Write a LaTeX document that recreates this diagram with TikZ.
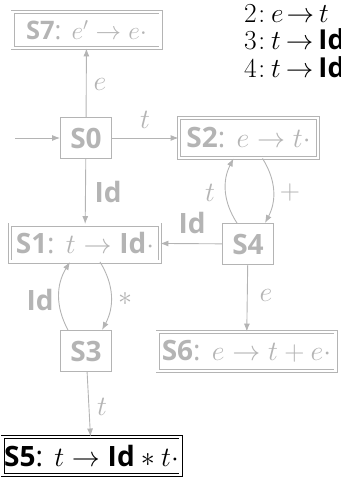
\RequirePackage{fix-cm}
\documentclass[tikz,border=0pt]{standalone}
\usepackage{fontspec}
\setsansfont{Open Sans}
\usetikzlibrary{arrows.meta,calc}
\definecolor{gc}{RGB}{180,180,180}
\newcommand\fsz{\fontsize{28}{32}\selectfont}
\newcommand\rsz{\fontsize{27.5}{30}\selectfont}
\newcommand\sn[1]{\textsf{\textbf{#1}}}
\newcommand\idd{\textsf{\textbf{Id}}}
\begin{document}
\begin{tikzpicture}[x=1pt,y=-1pt,
  st/.style={draw=gc, text=gc, line width=0.9pt, font=\fsz, inner sep=0pt, minimum height=41pt, minimum width=51pt},
  acc/.style={st, double=white, double distance=2.2pt, minimum height=37pt},
  ed/.style={draw=gc, line width=0.9pt, -{Latex[length=8pt,width=6pt]}},
  lab/.style={text=gc, font=\fsz, inner sep=0pt},
  rule/.style={anchor=base west, inner sep=0pt, font=\rsz}]
\useasboundingbox (0,0) rectangle (340,479);
\clip (0,0) rectangle (340,479);
% nodes
\node[acc, minimum width=148pt, minimum height=36pt, font=\fontsize{25.5}{30}\selectfont] (S7) at (86.5,30) {\sn{S7}\textsf{:} $e'\rightarrow e\cdot$};
\node[st] (S0) at (86,138) {\sn{S0}};
\node[acc, minimum width=139pt, minimum height=40pt] (S2) at (248.5,138) {\sn{S2}\textsf{:} $e\rightarrow t\cdot$};
\node[acc, minimum width=150pt] (S1) at (85,243) {\sn{S1}\textsf{:} $t\rightarrow \idd\cdot$};
\node[st] (S4) at (248,244) {\sn{S4}};
\node[st] (S3) at (86,351) {\sn{S3}};
\node[acc, minimum width=178pt, minimum height=39pt] (S6) at (246.5,351.5) {\sn{S6}\textsf{:} $e\rightarrow t+e\cdot$};
\node[acc, draw=black, text=black, minimum width=178pt, minimum height=38pt] (S5) at (91.5,456) {\sn{S5}\textsf{:} $t\rightarrow \idd * t\cdot$};
% rules
\node[rule] (r2) at (244,22) {$2\hspace{1.5pt}{:}\hspace{6pt}e\hspace{3pt}{\rightarrow}\hspace{5pt}t$};
\node[rule] (r3) at (244,49) {$3\hspace{1.5pt}{:}\hspace{6pt}t\hspace{5pt}{\rightarrow}\hspace{5pt}\idd$};
\node[rule] (r4) at (244,77) {$4\hspace{1.5pt}{:}\hspace{6pt}t\hspace{5pt}{\rightarrow}\hspace{5pt}\idd$};
% edges
\coordinate (in) at (15,138);
\draw[ed] (in) -- (S0);
\draw[ed] (S0) -- (S7);
\node[lab] (le) at (100,84) {$e$};
\draw[ed] (S0) -- (S2);
\node[lab] (lt) at (145,120) {$t$};
\draw[ed] (S0) -- (S1);
\node[lab] (lid) at (108,192) {\idd};
\draw[ed] ($(S2.south)+(14,0)$) to[bend left=30] ($(S4.north)+(17,0)$);
\node[lab] (lp) at (290,192) {$+$};
\draw[ed] ($(S4.north)+(-11,0)$) to[bend left=30] ($(S2.south)+(-15,0)$);
\node[lab] (lt2) at (210,193) {$t$};
\draw[ed] (S4) -- (S1);
\node[lab] (lid2) at (192,223) {\idd};
\draw[ed] (S4) -- (S6);
\node[lab] (le2) at (266,295) {$e$};
\draw[ed] ($(S1.south)+(15,0)$) to[bend left=30] ($(S3.north)+(16,0)$);
\node[lab] (ls) at (125,299) {$*$};
\draw[ed] ($(S3.north)+(-18,0)$) to[bend left=30] ($(S1.south)+(-15,0)$);
\node[lab] (lid3) at (40,300) {\idd};
\draw[ed] (S3) -- (S5);
\node[lab] (lt3) at (102,407) {$t$};
\end{tikzpicture}
\end{document}
